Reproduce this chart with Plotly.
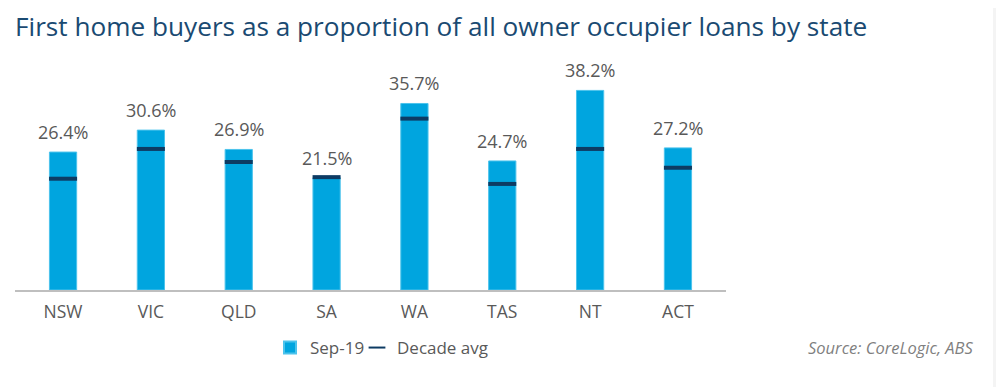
import plotly.graph_objects as go

states = ["NSW", "VIC", "QLD", "SA", "WA", "TAS", "NT", "ACT"]
sep19 = [26.4, 30.6, 26.9, 21.5, 35.7, 24.7, 38.2, 27.2]
decade_avg = [21.3, 27.0, 24.5, 21.6, 32.8, 20.3, 27.0, 23.4]

title_text = "First home buyers as a proportion of all owner occupier loans by state"
source_text = "Source: CoreLogic, ABS"

BAR = "#00a5df"
NAVY = "#0d3b63"
GREY = "#595959"

# page body has an 8px margin; figure coordinates are page coords minus 8
W, H = 996, 379
L, R, T, B = 7, 278, 52, 97
PW, PH = W - L - R, H - T - B

fig = go.Figure()
fig.add_trace(go.Bar(
    x=states, y=sep19, name="Sep-19", width=0.31, legend="legend",
    marker=dict(color=BAR, line=dict(color="#4cc3ec", width=1)),
))
fig.add_trace(go.Scatter(
    x=states, y=decade_avg, name="Decade avg", mode="markers", legend="legend2",
    marker=dict(symbol="line-ew", size=20, color=NAVY, line=dict(color=NAVY, width=4)),
))

for s, v in zip(states, sep19):
    fig.add_annotation(x=s, y=v, text=f"{v:.1f}%", showarrow=False,
                       yanchor="bottom", yshift=6,
                       font=dict(family="Open Sans", size=18, color=GREY))

fig.add_annotation(xref="paper", yref="paper", x=(967 - L) / PW, y=-(339 - (T + PH)) / PH,
                   xanchor="right", yanchor="middle", showarrow=False,
                   text=f"<i>{source_text}</i>",
                   font=dict(family="Open Sans", size=16.5, color="#7f7f7f"))

fig.add_shape(type="rect", xref="paper", yref="paper",
              x0=(985 - L) / PW, x1=(996 - L) / PW, y0=-B / PH, y1=(PH + T) / PH,
              fillcolor="#f4f4f4", line=dict(width=0), layer="below")

legend_common = dict(orientation="h", xanchor="left", y=-(340 - (T + PH)) / PH,
                     yanchor="middle", font=dict(family="Open Sans", size=17, color=GREY),
                     bgcolor="rgba(0,0,0,0)", itemsizing="constant")

fig.update_layout(
    width=W, height=H,
    margin=dict(l=L, r=R, t=T, b=B),
    paper_bgcolor="white", plot_bgcolor="white",
    title=dict(text=title_text, x=7 / W, xanchor="left", y=1 - 19 / H, yanchor="middle",
               font=dict(family="Open Sans", size=26.2, color="#1a4a72")),
    xaxis=dict(showline=True, linecolor="#bfbfbf", linewidth=2, ticks="",
               ticklabelstandoff=5,
               tickfont=dict(family="Open Sans", size=17.5, color=GREY), showgrid=False),
    yaxis=dict(range=[0, 44.02], visible=False, showgrid=False),
    showlegend=True,
    legend=dict(x=(262 - L) / PW, **legend_common),
    legend2=dict(x=(349 - L) / PW, **legend_common),
    bargap=0.69,
)

fig.write_html("out.html")
